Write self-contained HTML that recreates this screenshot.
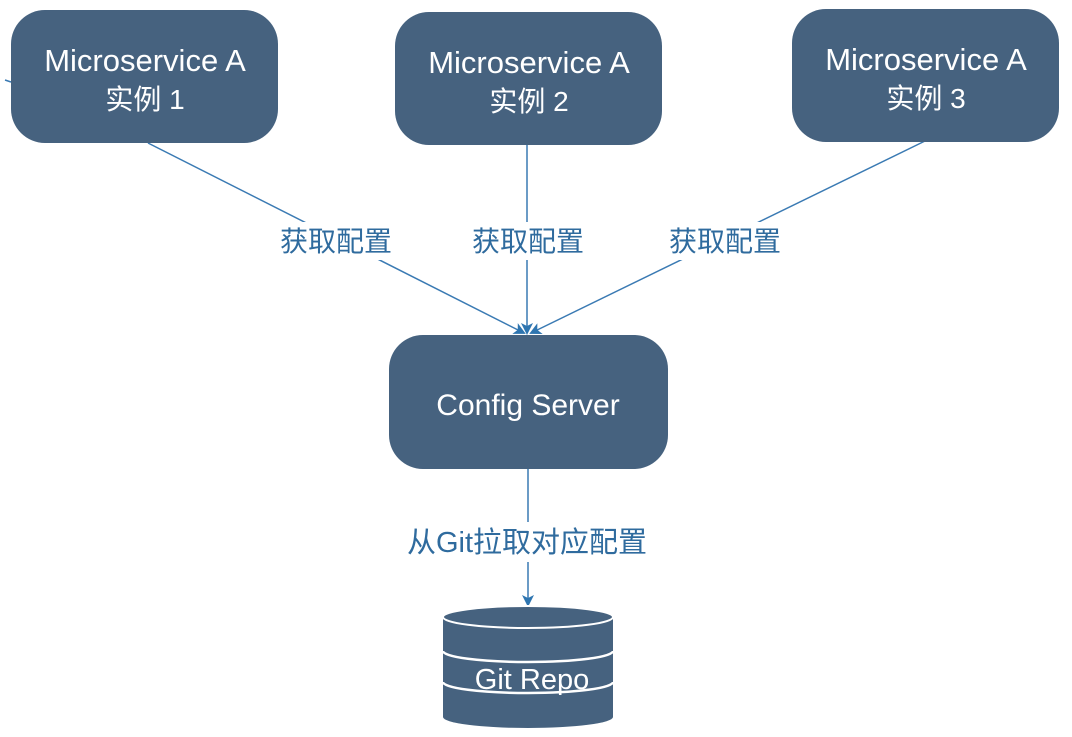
<!DOCTYPE html>
<html><head><meta charset="utf-8"><style>
html,body{margin:0;padding:0;background:#fff;}
svg{display:block;}
.t{font-family:"Liberation Sans","Noto Sans CJK SC",sans-serif;fill:#fff;}
.l{font-family:"Liberation Sans","Noto Sans CJK SC",sans-serif;fill:#2f6b9e;}
</style></head><body>
<svg width="1072" height="737" viewBox="0 0 1072 737" xmlns="http://www.w3.org/2000/svg">
<defs>
<marker id="a" markerWidth="12" markerHeight="12" refX="10" refY="6" orient="auto" markerUnits="userSpaceOnUse">
<path d="M0,0 L12,6 L0,12 L3,6 Z" fill="#2e75b0"/>
</marker>
</defs>
<g stroke="#3a7ab3" stroke-width="1.5" fill="none">
<line x1="148" y1="143" x2="524" y2="333" marker-end="url(#a)"/>
<line x1="527" y1="145" x2="527" y2="333" marker-end="url(#a)"/>
<line x1="925" y1="141" x2="531" y2="333" marker-end="url(#a)"/>
<line x1="528" y1="469" x2="528" y2="605" marker-end="url(#a)"/>
<line x1="5" y1="80" x2="11" y2="82"/>
</g>
<g fill="#fff">
<rect x="270" y="222" width="135" height="38"/>
<rect x="462" y="222" width="135" height="38"/>
<rect x="660" y="222" width="135" height="38"/>
<rect x="398" y="522" width="260" height="40"/>
</g>
<text class="l" x="336" y="251" font-size="28" text-anchor="middle">获取配置</text>
<text class="l" x="528" y="251" font-size="28" text-anchor="middle">获取配置</text>
<text class="l" x="725" y="251" font-size="28" text-anchor="middle">获取配置</text>
<text class="l" x="527" y="552" font-size="29" text-anchor="middle">从Git拉取对应配置</text>
<g fill="#46627f">
<rect x="11" y="10" width="267" height="133" rx="34"/>
<rect x="395" y="12" width="267" height="133" rx="34"/>
<rect x="792" y="9" width="267" height="133" rx="34"/>
<rect x="389" y="335" width="279" height="134" rx="34"/>
</g>
<text class="t" x="145" y="71" font-size="31" text-anchor="middle">Microservice A</text>
<text class="t" x="145" y="109" font-size="28" text-anchor="middle">实例 1</text>
<text class="t" x="529" y="73" font-size="31" text-anchor="middle">Microservice  A</text>
<text class="t" x="529" y="111" font-size="28" text-anchor="middle">实例 2</text>
<text class="t" x="926" y="70" font-size="31" text-anchor="middle">Microservice A</text>
<text class="t" x="926" y="108" font-size="28" text-anchor="middle">实例 3</text>
<text class="t" x="528" y="415" font-size="30" text-anchor="middle">Config Server</text>
<g>
<path d="M443,617 L443,717 A85,11 0 0 0 613,717 L613,617 Z" fill="#46627f"/>
<ellipse cx="528" cy="617" rx="85" ry="11" fill="#46627f" stroke="#fff" stroke-width="2"/>
<path d="M443,651 A85,11 0 0 0 613,651" fill="none" stroke="#fff" stroke-width="2.5"/>
<path d="M443,682 A85,11 0 0 0 613,682" fill="none" stroke="#fff" stroke-width="2.5"/>
</g>
<text class="t" x="532" y="689" font-size="29" text-anchor="middle">Git Repo</text>
</svg>
</body></html>
